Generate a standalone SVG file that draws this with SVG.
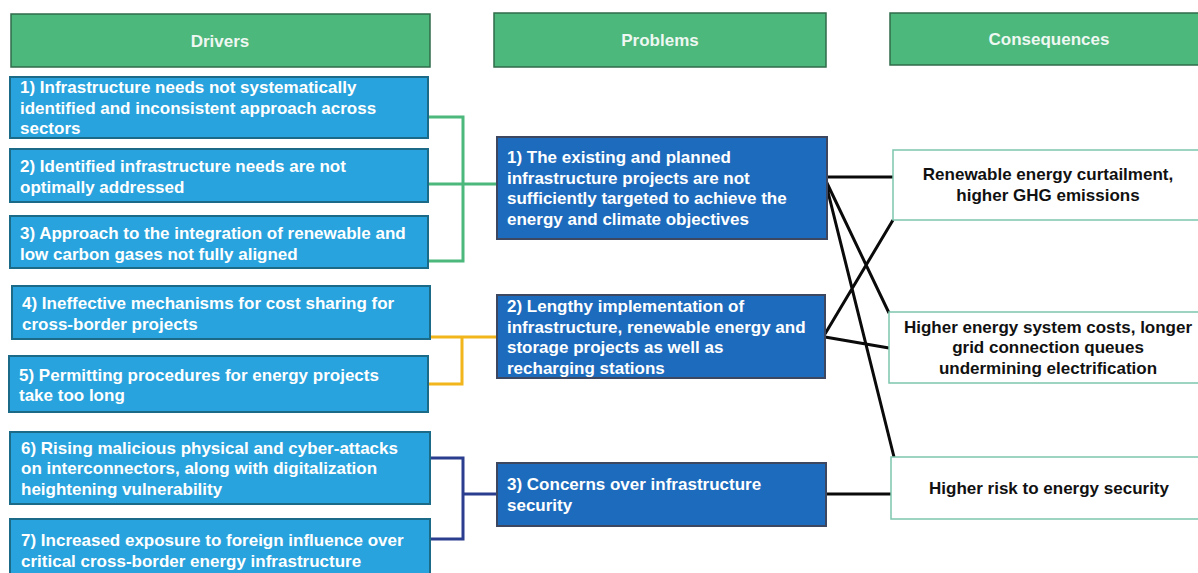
<svg xmlns="http://www.w3.org/2000/svg" width="1198" height="573" viewBox="0 0 1198 573">
<style>
.hdr{fill:#4cb87c;stroke:#2f6b48;stroke-width:1.5}
.hdt{font-family:"Liberation Sans",Arial,sans-serif;font-weight:bold;font-size:17px;fill:#eef7f1;text-anchor:middle}
.drv{fill:#29a3dd;stroke:#1b6a87;stroke-width:2}
.prb{fill:#1d6bbd;stroke:#3d4860;stroke-width:2}
.con{fill:#ffffff;stroke:#7cc6ad;stroke-width:1.5}
.wt{font-family:"Liberation Sans",Arial,sans-serif;font-weight:bold;font-size:17px;fill:#ffffff}
.bt{font-family:"Liberation Sans",Arial,sans-serif;font-weight:bold;font-size:17px;fill:#111111;text-anchor:middle}
.cg{fill:none;stroke:#4cb87c;stroke-width:3}
.cy{fill:none;stroke:#f2b61c;stroke-width:3}
.cn{fill:none;stroke:#2b3d8e;stroke-width:3}
.ck{fill:none;stroke:#0a0a0a;stroke-width:3}
</style>
<rect width="1198" height="573" fill="#ffffff"/>
<g id="connectors">
<path class="cg" d="M428,117 H463 V261 H428 M428,184 H497"/>
<path class="cy" d="M430,337 H497 M462,337 V384 H428"/>
<path class="cn" d="M430,458 H463 V539 H430 M463,494 H497"/>
<path class="ck" d="M827,177 H893 M826,181 L889,313 M826,184 L894,457 M825,334 L893,220 M825,337 L889,348 M826,494 H891"/>
</g>
<g id="header-drivers"><rect class="hdr" x="11" y="14" width="419" height="53"/><text class="hdt" x="220" y="47">Drivers</text></g>
<g id="header-problems"><rect class="hdr" x="494" y="13" width="332" height="54"/><text class="hdt" x="660" y="46">Problems</text></g>
<g id="header-consequences"><rect class="hdr" x="890" y="13" width="320" height="52"/><text class="hdt" x="1049" y="45">Consequences</text></g>
<g id="driver1"><rect class="drv" x="10" y="77" width="418" height="61"/><text class="wt" x="20" y="93">1) Infrastructure needs not systematically</text><text class="wt" x="20" y="114">identified and inconsistent approach across</text><text class="wt" x="20" y="134">sectors</text></g>
<g id="driver2"><rect class="drv" x="10" y="149" width="418" height="53"/><text class="wt" x="20" y="172">2) Identified infrastructure needs are not</text><text class="wt" x="20" y="193">optimally addressed</text></g>
<g id="driver3"><rect class="drv" x="10" y="216" width="418" height="52"/><text class="wt" x="20" y="239">3) Approach to the integration of renewable and</text><text class="wt" x="20" y="260">low carbon gases not fully aligned</text></g>
<g id="driver4"><rect class="drv" x="12" y="286" width="418" height="53"/><text class="wt" x="22" y="309">4) Ineffective mechanisms for cost sharing for</text><text class="wt" x="22" y="330">cross-border projects</text></g>
<g id="driver5"><rect class="drv" x="9" y="356" width="419" height="56"/><text class="wt" x="19" y="381">5) Permitting procedures for energy projects</text><text class="wt" x="19" y="401">take too long</text></g>
<g id="driver6"><rect class="drv" x="10" y="432" width="420" height="72"/><text class="wt" x="21" y="454">6) Rising malicious physical and cyber-attacks</text><text class="wt" x="21" y="474">on interconnectors, along with digitalization</text><text class="wt" x="21" y="495">heightening vulnerability</text></g>
<g id="driver7"><rect class="drv" x="10" y="519" width="420" height="70"/><text class="wt" x="21" y="546">7) Increased exposure to foreign influence over</text><text class="wt" x="21" y="567">critical cross-border energy infrastructure</text></g>
<g id="problem1"><rect class="prb" x="497" y="137" width="330" height="102"/><text class="wt" x="507" y="163">1) The existing and planned</text><text class="wt" x="507" y="184">infrastructure projects are not</text><text class="wt" x="507" y="204">sufficiently targeted to achieve the</text><text class="wt" x="507" y="225">energy and climate objectives</text></g>
<g id="problem2"><rect class="prb" x="497" y="295" width="328" height="83"/><text class="wt" x="507" y="312">2) Lengthy implementation of</text><text class="wt" x="507" y="333">infrastructure, renewable energy and</text><text class="wt" x="507" y="353">storage projects as well as</text><text class="wt" x="507" y="374">recharging stations</text></g>
<g id="problem3"><rect class="prb" x="497" y="463" width="329" height="63"/><text class="wt" x="507" y="490">3) Concerns over infrastructure</text><text class="wt" x="507" y="511">security</text></g>
<g id="consequence1"><rect class="con" x="893" y="150" width="320" height="70"/><text class="bt" x="1048" y="180">Renewable energy curtailment,</text><text class="bt" x="1048" y="201">higher GHG emissions</text></g>
<g id="consequence2"><rect class="con" x="889" y="312" width="320" height="71"/><text class="bt" x="1048" y="333">Higher energy system costs, longer</text><text class="bt" x="1048" y="353">grid connection queues</text><text class="bt" x="1048" y="374">undermining electrification</text></g>
<g id="consequence3"><rect class="con" x="891" y="457" width="320" height="62"/><text class="bt" x="1049" y="494">Higher risk to energy security</text></g>
</svg>
